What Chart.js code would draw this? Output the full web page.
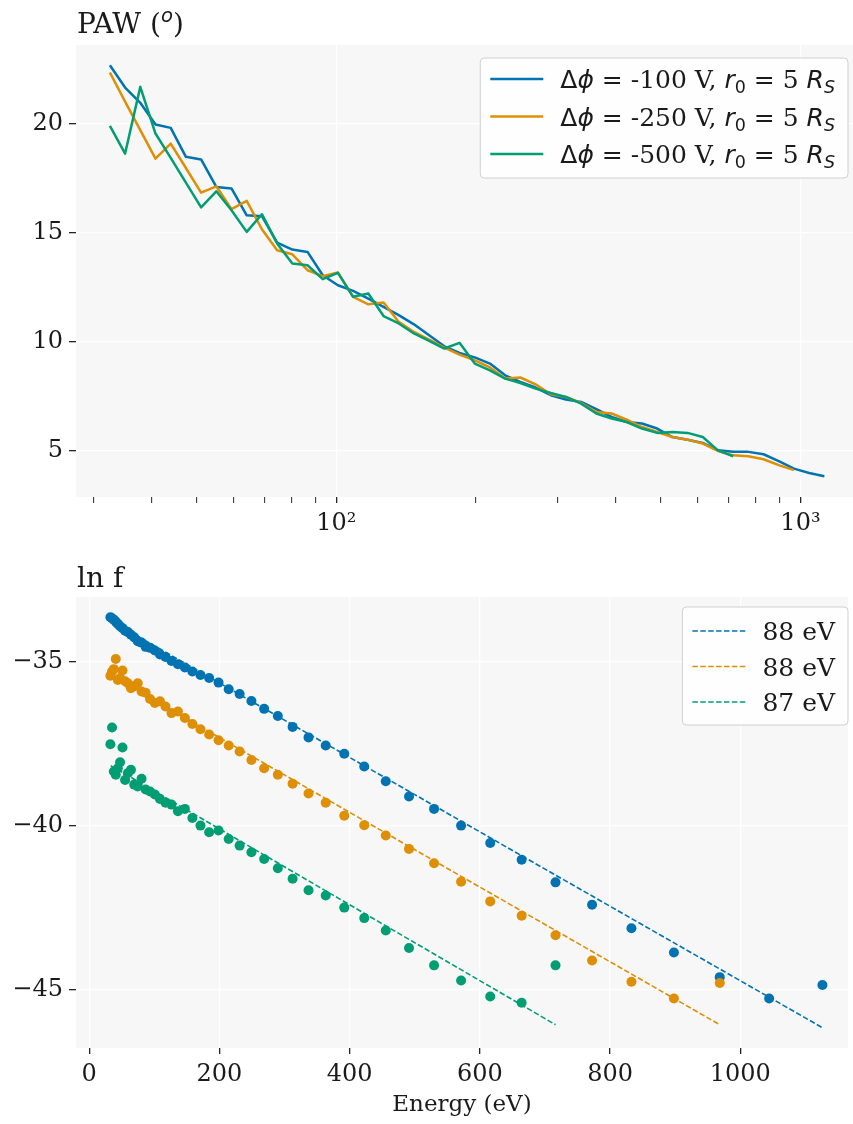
<!DOCTYPE html>
<html>
<head>
<meta charset="utf-8">
<script src="https://cdn.jsdelivr.net/npm/chart.js@4.4.1/dist/chart.umd.min.js"></script>
<style>
  html, body { margin: 0; padding: 0; background: #ffffff; overflow: hidden; }
  canvas { display: block; }
</style>
</head>
<body>
<canvas id="wykresPaw" width="853" height="560"></canvas>
<canvas id="wykresLnf" width="853" height="564"></canvas>
<script>
// energie (eV) wspolne dla obu paneli
const energie = [32.5, 35.05, 37.79, 40.75, 43.95, 47.39, 51.10, 55.11, 59.42, 64.08, 69.10, 74.52,
  80.35, 86.65, 93.44, 100.76, 108.65, 117.17, 126.35, 136.25, 146.92, 158.43, 170.84, 184.23,
  198.66, 214.23, 231.01, 249.11, 268.63, 289.68, 312.37, 336.85, 363.24, 391.70, 422.39, 455.48,
  491.17, 529.65, 571.15, 615.90, 664.15, 716.19, 772.30, 832.80, 898.05, 968.41, 1044.29, 1126.10];

// gorny panel: PAW (stopnie)
const pawNiebieski = [22.67, 21.65, 20.95, 19.95, 19.80, 18.47, 18.35, 17.09, 17.02, 15.79, 15.75, 14.54,
  14.22, 14.11, 13.04, 12.58, 12.32, 11.97, 11.59, 11.21, 10.79, 10.29, 9.78, 9.48,
  9.27, 8.99, 8.45, 8.15, 7.89, 7.54, 7.34, 7.23, 6.90, 6.54, 6.31, 6.24,
  6.01, 5.62, 5.50, 5.35, 5.01, 4.94, 4.94, 4.83, 4.52, 4.17, 3.97, 3.82];
const pawPomaranczowy = [22.34, 21.0, 19.7, 18.39, 19.08, 17.96, 16.83, 17.12, 16.07, 16.45, 15.15, 14.19,
  14.00, 13.27, 13.00, 13.17, 12.05, 11.71, 11.79, 10.90, 10.44, 10.09, 9.72, 9.40,
  9.14, 8.81, 8.30, 8.35, 8.04, 7.58, 7.46, 7.18, 6.77, 6.70, 6.42, 6.08,
  5.85, 5.62, 5.50, 5.32, 4.98, 4.78, 4.74, 4.60, 4.33, 4.10];
const pawZielony = [19.89, 18.62, 21.68, 19.54, 18.42, 17.29, 16.15, 16.89, 16.02, 15.03, 15.84, 14.50,
  13.58, 13.50, 12.86, 13.15, 12.05, 12.20, 11.17, 10.83, 10.37, 10.03, 9.68, 9.94,
  8.99, 8.68, 8.30, 8.10, 7.84, 7.64, 7.46, 7.15, 6.70, 6.47, 6.31, 6.01,
  5.81, 5.85, 5.81, 5.62, 5.01, 4.74];

// dolny panel: ln f
const lnfNiebieski = [-33.65, -33.68, -33.72, -33.78, -33.85, -33.92, -33.98, -34.06, -34.10, -34.18, -34.26, -34.38,
  -34.42, -34.55, -34.58, -34.66, -34.78, -34.86, -34.98, -35.08, -35.18, -35.30, -35.41, -35.50,
  -35.64, -35.84, -35.99, -36.20, -36.44, -36.66, -36.99, -37.31, -37.56, -37.81, -38.20, -38.65,
  -39.11, -39.49, -40.00, -40.53, -41.04, -41.73, -42.41, -43.13, -43.87, -44.62, -45.27, -44.86];
const lnfPomaranczowy = [-35.43, -35.30, -35.23, -34.92, -35.56, -35.50, -35.27, -35.60, -35.66, -35.81, -35.75, -35.66,
  -35.91, -35.95, -36.14, -36.26, -36.21, -36.37, -36.57, -36.52, -36.72, -36.90, -37.06, -37.22,
  -37.40, -37.56, -37.74, -38.00, -38.25, -38.45, -38.72, -39.02, -39.30, -39.70, -39.99, -40.30,
  -40.71, -41.15, -41.71, -42.31, -42.75, -43.34, -44.11, -44.76, -45.27, -44.80];
const lnfZielony = [-37.52, -37.01, -38.35, -38.45, -38.25, -38.07, -37.62, -38.61, -38.40, -38.30, -38.75, -38.81,
  -38.57, -38.90, -38.96, -39.05, -39.19, -39.30, -39.36, -39.56, -39.49, -39.77, -40.00, -40.20,
  -40.15, -40.41, -40.61, -40.81, -41.02, -41.30, -41.62, -41.97, -42.13, -42.50, -42.82, -43.20,
  -43.73, -44.26, -44.72, -45.21, -45.40, -44.26];

// proste dopasowania (konce odcinkow)
const dopasowanieNiebieskieX = [32.5, 1126.10];
const dopasowanieNiebieskieY = [-33.75, -46.16];
const dopasowaniePomaranczoweX = [32.5, 968.41];
const dopasowaniePomaranczoweY = [-35.41, -46.07];
const dopasowanieZieloneX = [33.0, 716.19];
const dopasowanieZieloneY = [-38.17, -46.07];

const potencjaly = ['-100', '-250', '-500'];
const etykietyDopasowania = ['88 eV', '88 eV', '87 eV'];

const podzialkaYGora = [5, 10, 15, 20];
const podzialkaXGoraGlowna = [100, 1000];
const podzialkaXGoraPomocnicza = [30, 40, 50, 60, 70, 80, 90, 200, 300, 400, 500, 600, 700, 800, 900];
const podzialkaYDol = [-45, -40, -35];
const podzialkaXDol = [0, 200, 400, 600, 800, 1000];

const kolory = ['#0173b2', '#de8f05', '#029e73'];
const kolorTekstu = '#1a1a1a';
const czcionkaOsi = { family: 'DejaVu Serif', size: 24 };

function punkty(xs, ys) {
  return ys.map((y, i) => ({ x: xs[i], y: y }));
}

function rysujTekst(ctx, fragmenty, x, y, rozmiar) {
  for (const f of fragmenty) {
    const r = rozmiar * (f.skala || 1);
    ctx.font = `${f.kursywa ? 'italic ' : ''}${r}px "${f.kroj || 'DejaVu Serif'}"`;
    ctx.fillText(f.t, x, y + (f.przesun || 0) * rozmiar);
    x += ctx.measureText(f.t).width;
  }
  return x;
}

function szerokoscTekstu(ctx, fragmenty, rozmiar) {
  let w = 0;
  for (const f of fragmenty) {
    ctx.font = `${f.kursywa ? 'italic ' : ''}${rozmiar * (f.skala || 1)}px "${f.kroj || 'DejaVu Serif'}"`;
    w += ctx.measureText(f.t).width;
  }
  return w;
}

function zaokraglonyProstokat(ctx, x, y, w, h, r) {
  ctx.beginPath();
  ctx.moveTo(x + r, y);
  ctx.lineTo(x + w - r, y);
  ctx.arcTo(x + w, y, x + w, y + r, r);
  ctx.lineTo(x + w, y + h - r);
  ctx.arcTo(x + w, y + h, x + w - r, y + h, r);
  ctx.lineTo(x + r, y + h);
  ctx.arcTo(x, y + h, x, y + h - r, r);
  ctx.lineTo(x, y + r);
  ctx.arcTo(x, y, x + r, y, r);
  ctx.closePath();
}

const wtyczkaTla = {
  id: 'tloObszaru',
  beforeDraw(chart) {
    const { ctx, chartArea: a } = chart;
    ctx.save();
    ctx.fillStyle = '#f7f7f7';
    ctx.fillRect(a.left, a.top, a.right - a.left, a.bottom - a.top);
    ctx.restore();
  }
};

function wtyczkaTytulu(id, fragmenty, x, y, rozmiar) {
  return {
    id,
    afterDraw(chart) {
      const ctx = chart.ctx;
      ctx.save();
      ctx.fillStyle = kolorTekstu;
      ctx.textBaseline = 'alphabetic';
      ctx.textAlign = 'left';
      rysujTekst(ctx, fragmenty, x, y, rozmiar);
      ctx.restore();
    }
  };
}

function wtyczkaLegendy(id, wpisy, uklad) {
  return {
    id,
    afterDraw(chart) {
      const ctx = chart.ctx;
      ctx.save();
      const szer = Math.max(...wpisy.map(w => szerokoscTekstu(ctx, w.tekst, uklad.rozmiar)));
      const prawa = uklad.prawa;
      const lewa = prawa - 13 - szer - 17 - 53 - 10;
      zaokraglonyProstokat(ctx, lewa, uklad.gora, prawa - lewa, uklad.wysokosc, 4);
      ctx.fillStyle = 'rgba(255,255,255,0.8)';
      ctx.fill();
      ctx.strokeStyle = '#d0d0d0';
      ctx.lineWidth = 1;
      ctx.stroke();
      wpisy.forEach((w, i) => {
        const y = uklad.pierwszy + i * uklad.odstep;
        ctx.beginPath();
        ctx.setLineDash(w.kreska || []);
        ctx.strokeStyle = w.kolor;
        ctx.lineWidth = w.grubosc;
        ctx.moveTo(lewa + 10, y);
        ctx.lineTo(lewa + 63, y);
        ctx.stroke();
        ctx.setLineDash([]);
        ctx.fillStyle = kolorTekstu;
        ctx.textBaseline = 'alphabetic';
        ctx.textAlign = 'left';
        rysujTekst(ctx, w.tekst, lewa + 80, y + 9, uklad.rozmiar);
      });
      ctx.restore();
    }
  };
}

function tekstLegendy(potencjal) {
  return [
    { t: 'Δ', kroj: 'DejaVu Sans' },
    { t: 'ϕ', kroj: 'DejaVu Sans', kursywa: true },
    { t: ' = ' + potencjal + ' V, ' },
    { t: 'r', kroj: 'DejaVu Sans', kursywa: true },
    { t: '0', kroj: 'DejaVu Sans', skala: 0.7, przesun: 0.2 },
    { t: ' = 5 ' },
    { t: 'R', kroj: 'DejaVu Sans', kursywa: true },
    { t: 'S', kroj: 'DejaVu Sans', kursywa: true, skala: 0.7, przesun: 0.2 }
  ];
}

const wspolneOpcje = {
  responsive: false,
  animation: false,
  events: [],
  plugins: { legend: { display: false }, tooltip: { enabled: false } }
};

// ---------- gorny wykres: PAW ----------
new Chart(document.getElementById('wykresPaw').getContext('2d'), {
  type: 'line',
  data: {
    datasets: [
      { data: punkty(energie, pawNiebieski), borderColor: kolory[0], order: 3 },
      { data: punkty(energie, pawPomaranczowy), borderColor: kolory[1], order: 2 },
      { data: punkty(energie, pawZielony), borderColor: kolory[2], order: 1 }
    ].map(d => Object.assign(d, { borderWidth: 2.5, pointRadius: 0, tension: 0, fill: false,
      borderJoinStyle: 'round', borderCapStyle: 'butt' }))
  },
  options: Object.assign({}, wspolneOpcje, {
    layout: { padding: { left: 0, right: 0, top: 45, bottom: 0 } },
    scales: {
      x: {
        type: 'logarithmic',
        min: 27.47,
        max: 1298,
        afterBuildTicks(scale) {
          scale.ticks = podzialkaXGoraPomocnicza.concat(podzialkaXGoraGlowna)
            .sort((a, b) => a - b).map(v => ({ value: v }));
        },
        afterFit(scale) { scale.height = 63; },
        border: { display: false },
        grid: {
          color: c => (c.tick && podzialkaXGoraGlowna.includes(c.tick.value)) ? '#ffffff' : 'rgba(0,0,0,0)',
          lineWidth: 1.3,
          tickColor: '#262626',
          tickWidth: c => (c.tick && podzialkaXGoraGlowna.includes(c.tick.value)) ? 1.3 : 1,
          tickLength: 6
        },
        ticks: {
          autoSkip: false,
          maxRotation: 0,
          padding: 6,
          color: kolorTekstu,
          font: czcionkaOsi,
          callback: v => v === 100 ? '10²' : (v === 1000 ? '10³' : '')
        }
      },
      y: {
        type: 'linear',
        min: 2.87,
        max: 23.6,
        afterBuildTicks(scale) { scale.ticks = podzialkaYGora.map(v => ({ value: v })); },
        afterFit(scale) { scale.width = 76; },
        border: { display: false },
        grid: { color: '#ffffff', lineWidth: 1.3, tickColor: '#262626', tickWidth: 1.3, tickLength: 7 },
        ticks: { padding: 6, color: kolorTekstu, font: czcionkaOsi }
      }
    }
  }),
  plugins: [
    wtyczkaTla,
    wtyczkaTytulu('tytulPaw', [
      { t: 'PAW (' },
      { t: 'o', kroj: 'DejaVu Sans', kursywa: true, skala: 0.7, przesun: -0.38 },
      { t: ')' }
    ], 77, 33, 28),
    wtyczkaLegendy('legendaPaw', potencjaly.map((p, i) => ({
      tekst: tekstLegendy(p), kolor: kolory[i], grubosc: 2.5
    })), { prawa: 848, gora: 58, wysokosc: 120, pierwszy: 79, odstep: 37.5, rozmiar: 25 })
  ]
});

// ---------- dolny wykres: ln f ----------
const linieDopasowania = [
  [dopasowanieNiebieskieX, dopasowanieNiebieskieY, kolory[0]],
  [dopasowaniePomaranczoweX, dopasowaniePomaranczoweY, kolory[1]],
  [dopasowanieZieloneX, dopasowanieZieloneY, kolory[2]]
].map(([xs, ys, kolor]) => ({
  type: 'line',
  data: punkty(xs, ys),
  borderColor: kolor,
  borderWidth: 1.6,
  borderDash: [5.5, 2.4],
  pointRadius: 0,
  showLine: true,
  fill: false,
  tension: 0
}));

const punktyLnf = [
  [lnfPomaranczowy, kolory[1]],
  [lnfZielony, kolory[2]],
  [lnfNiebieski, kolory[0]]
].map(([ys, kolor]) => ({
  type: 'scatter',
  data: punkty(energie, ys),
  backgroundColor: kolor,
  pointBackgroundColor: kolor,
  pointBorderWidth: 0,
  pointRadius: 5,
  showLine: false
}));

new Chart(document.getElementById('wykresLnf').getContext('2d'), {
  type: 'scatter',
  data: { datasets: linieDopasowania.concat(punktyLnf) },
  options: Object.assign({}, wspolneOpcje, {
    layout: { padding: { left: 0, right: 0, top: 37, bottom: 0 } },
    scales: {
      x: {
        type: 'linear',
        min: -20.3,
        max: 1165.4,
        afterBuildTicks(scale) { scale.ticks = podzialkaXDol.map(v => ({ value: v })); },
        afterFit(scale) { scale.height = 76; },
        border: { display: false },
        grid: { color: '#ffffff', lineWidth: 1.3, tickColor: '#262626', tickWidth: 1.3, tickLength: 6 },
        ticks: {
          autoSkip: false,
          maxRotation: 0,
          padding: 6,
          color: kolorTekstu,
          font: czcionkaOsi,
          callback: v => String(v)
        },
        title: {
          display: true,
          text: 'Energy (eV)',
          color: kolorTekstu,
          font: { family: 'DejaVu Serif', size: 23 },
          padding: { top: 0, bottom: 5 }
        }
      },
      y: {
        type: 'linear',
        min: -46.78,
        max: -33.03,
        afterBuildTicks(scale) { scale.ticks = podzialkaYDol.map(v => ({ value: v })); },
        afterFit(scale) { scale.width = 76; },
        border: { display: false },
        grid: { color: '#ffffff', lineWidth: 1.3, tickColor: '#262626', tickWidth: 1.3, tickLength: 7 },
        ticks: {
          padding: 6,
          color: kolorTekstu,
          font: czcionkaOsi,
          callback: v => v < 0 ? '\u2212' + Math.abs(v) : String(v)
        }
      }
    }
  }),
  plugins: [
    wtyczkaTla,
    wtyczkaTytulu('tytulLnf', [{ t: 'ln f' }], 77, 27, 28),
    wtyczkaLegendy('legendaLnf', etykietyDopasowania.map((e, i) => ({
      tekst: [{ t: e }], kolor: kolory[i], grubosc: 1.6, kreska: [5.5, 2.4]
    })), { prawa: 848, gora: 47, wysokosc: 118, pierwszy: 71, odstep: 35.5, rozmiar: 25 })
  ]
});
</script>
</body>
</html>
